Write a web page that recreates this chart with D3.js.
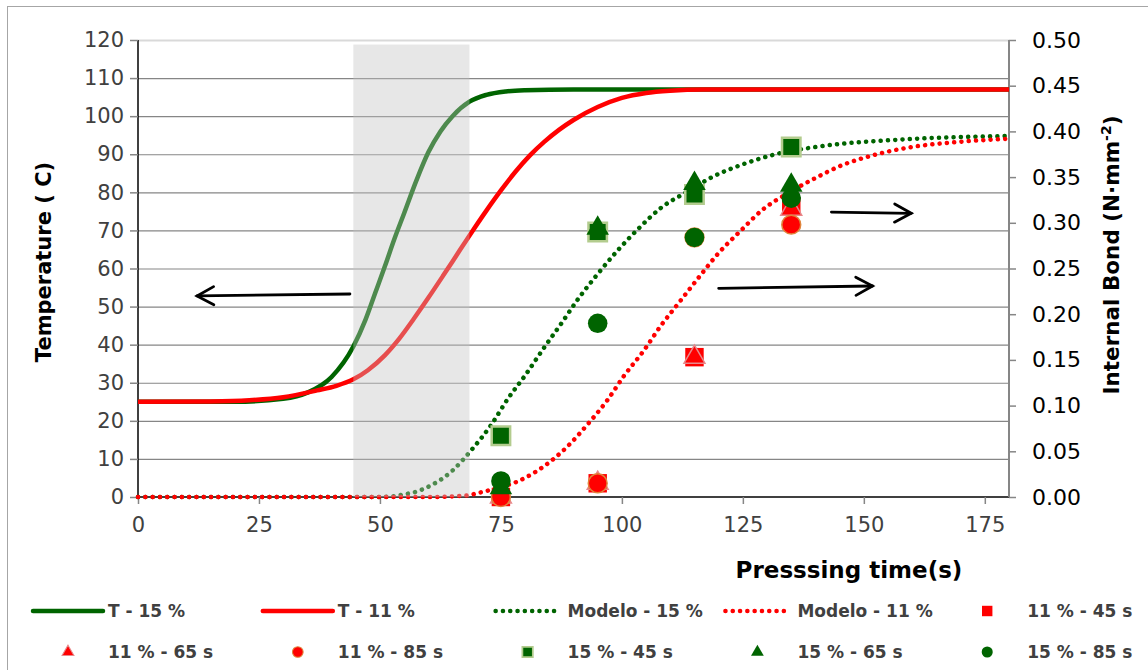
<!DOCTYPE html>
<html>
<head>
<meta charset="utf-8">
<script src="https://cdn.jsdelivr.net/npm/d3@7"></script>
<style>
    html, body { margin: 0; padding: 0; background: #fff; }
    svg { display: block; font-family: "DejaVu Sans", Verdana, sans-serif; }
    .tick text { font-family: "DejaVu Sans", Verdana, sans-serif; }
</style>
</head>
<body>
<div id="chart"></div>
<script>
// temperature curves (left axis, C)
const t15Time = [0, 20, 30, 35, 40, 44.5, 47, 49, 51, 53, 55, 57.5, 60, 62.5, 65, 68.5, 72, 76, 80, 90, 100, 180];
const t15Temp = [25, 25, 25.8, 27.4, 31.5, 39.5, 46.5, 53.5, 60.5, 67.8, 74.5, 83, 90.5, 96, 100, 103.8, 105.6, 106.5, 106.8, 107, 107, 107];

const t11Time = [0, 15, 23, 30, 37, 41, 44.5, 47.5, 51, 54, 57, 60, 63, 66, 69, 72, 75, 78, 81, 84, 87, 90, 95, 100, 105, 110, 117, 180];
const t11Temp = [25, 25.1, 25.4, 26.2, 28, 29.2, 30.9, 33.3, 37.2, 41.6, 46.8, 52.3, 58, 63.8, 69.6, 75.2, 80.5, 85.4, 89.7, 93.3, 96.4, 99, 102.4, 104.8, 106.1, 106.7, 107, 107];

// model curves (right axis, N/mm2)
const m15Time = [0, 50, 53, 55, 57, 59, 61, 63, 65, 69, 73, 76.5, 80, 84, 87.5, 91, 95, 99, 103.5, 108, 113.5, 119, 125, 131, 141.5, 157.5, 180];
const m15Ib = [0, 0, 0.001, 0.003, 0.005, 0.0088, 0.014, 0.0205, 0.029, 0.052, 0.079, 0.108, 0.133, 0.164, 0.19, 0.217, 0.244, 0.269, 0.294, 0.316, 0.334, 0.351, 0.364, 0.374, 0.384, 0.391, 0.395];

const m11Time = [0, 62, 66, 68.5, 70, 72, 75, 78, 80, 82, 84, 88.5, 93, 97, 100.5, 104.5, 108, 112, 116, 120, 124.5, 129, 134.5, 140, 145.5, 152, 160, 168.5, 180];
const m11Ib = [0, 0, 0.001, 0.002, 0.004, 0.0066, 0.011, 0.016, 0.021, 0.027, 0.034, 0.054, 0.08, 0.106, 0.133, 0.16, 0.187, 0.214, 0.241, 0.267, 0.291, 0.314, 0.333, 0.349, 0.363, 0.374, 0.383, 0.388, 0.392];

// measured internal bond
const pressTimes = [75, 95, 115, 135];
const ib11_45 = [0, 0.015, 0.153, 0.318];
const ib11_65 = [0, 0.015, 0.153, 0.315];
const ib11_85 = [0, 0.015, 0.284, 0.298];
const ib15_45 = [0.067, 0.29, 0.331, 0.383];
const ib15_65 = [0.01, 0.294, 0.343, 0.341];
const ib15_85 = [0.0175, 0.19, 0.284, 0.327];

const xTicks = [0, 25, 50, 75, 100, 125, 150, 175];
const tempTicks = [0, 10, 20, 30, 40, 50, 60, 70, 80, 90, 100, 110, 120];
const ibTicks = [0, 0.05, 0.1, 0.15, 0.2, 0.25, 0.3, 0.35, 0.4, 0.45, 0.5];

// shaded press-closing window (time from, time to, top in C)
const band = [44.5, 68.5, 118.8];

// arrows [t1, T1, t2, T2] in left-axis units
const arrows = [
    [43.8, 53.3, 12.2, 52.8],
    [120, 54.8, 151.8, 55.4],
    [143.3, 74.8, 159.8, 74.5]
];

const legendNames = ['T - 15 %', 'T - 11 %', 'Modelo - 15 %', 'Modelo - 11 %', '11 % - 45 s',
    '11 % - 65 s', '11 % - 85 s', '15 % - 45 s', '15 % - 65 s', '15 % - 85 s'];

const GREEN = '#006400', RED = '#ff0000';

const W = 1148, H = 670;
const M = { left: 138, right: 1009, top: 40, bottom: 497 };

const svg = d3.select('#chart').append('svg')
    .attr('width', W).attr('height', H);

// outer frame
svg.append('rect')
    .attr('x', 7.5).attr('y', 6.5).attr('width', W + 10).attr('height', H + 10)
    .attr('fill', 'none').attr('stroke', '#a6a6a6');

const x = d3.scaleLinear().domain([0, 180]).range([M.left, M.right]);
const yT = d3.scaleLinear().domain([0, 120]).range([M.bottom, M.top]);
const yIb = d3.scaleLinear().domain([0, 0.5]).range([M.bottom, M.top]);

// gridlines
svg.append('g')
    .selectAll('line')
    .data(tempTicks.filter(d => d > 0))
    .join('line')
    .attr('x1', M.left).attr('x2', M.right)
    .attr('y1', d => yT(d) + 0.5).attr('y2', d => yT(d) + 0.5)
    .attr('stroke', d => d === 120 ? '#d9d9d9' : '#868686')
    .attr('stroke-width', d => d === 120 ? 2 : 1.2);

// axes
const xAxis = svg.append('g')
    .attr('transform', `translate(0,${M.bottom})`)
    .call(d3.axisBottom(x).tickValues(xTicks).tickSize(7).tickPadding(13).tickFormat(d3.format('d')));
const yAxisL = svg.append('g')
    .attr('transform', `translate(${M.left},0)`)
    .call(d3.axisLeft(yT).tickValues(tempTicks).tickSize(8).tickPadding(6));
const yAxisR = svg.append('g')
    .attr('transform', `translate(${M.right},0)`)
    .call(d3.axisRight(yIb).tickValues(ibTicks).tickSize(7).tickPadding(16).tickFormat(d3.format('.2f')));

[xAxis, yAxisL, yAxisR].forEach(a => {
    a.attr('font-family', null).attr('font-size', null);
    a.selectAll('.tick line').attr('stroke', '#868686').attr('stroke-width', 1.5);
    a.selectAll('.tick text').style('font-size', '21px').attr('fill', '#404040');
});
xAxis.select('.domain').attr('stroke', '#000').attr('stroke-width', 1.5).attr('d', `M${M.left},0H${M.right}`);
yAxisL.select('.domain').attr('stroke', '#000').attr('stroke-width', 1.5).attr('d', `M0,${M.bottom}V${M.top}`);
yAxisR.select('.domain').attr('stroke', '#868686').attr('stroke-width', 2).attr('d', `M0,${M.bottom}V${M.top}`);
yAxisR.selectAll('.tick text').style('font-size', '22px').attr('fill', '#000');

// curves
const tLine = d3.line().x(d => x(d[0])).y(d => yT(d[1])).curve(d3.curveMonotoneX);
const ibLine = d3.line().x(d => x(d[0])).y(d => yIb(d[1])).curve(d3.curveMonotoneX);

const lines = svg.append('g').attr('fill', 'none');
lines.append('path').datum(d3.zip(t15Time, t15Temp))
    .attr('d', tLine).attr('stroke', GREEN).attr('stroke-width', 4.5);
lines.append('path').datum(d3.zip(t11Time, t11Temp))
    .attr('d', tLine).attr('stroke', RED).attr('stroke-width', 4.5);
lines.append('path').datum(d3.zip(m15Time, m15Ib))
    .attr('d', ibLine).attr('stroke', GREEN).attr('stroke-width', 4.5)
    .attr('stroke-linecap', 'round').attr('stroke-dasharray', '0.1 7.2');
lines.append('path').datum(d3.zip(m11Time, m11Ib))
    .attr('d', ibLine).attr('stroke', RED).attr('stroke-width', 4.5)
    .attr('stroke-linecap', 'round').attr('stroke-dasharray', '0.1 7.2');

// shaded band on top of lines and axis
svg.append('rect')
    .attr('x', x(band[0])).attr('y', yT(band[2]))
    .attr('width', x(band[1]) - x(band[0]))
    .attr('height', yT(0) - yT(band[2]))
    .attr('fill', 'rgb(195,195,195)').attr('fill-opacity', 0.4);

// markers
const series = [
    { vals: ib11_45, shape: d3.symbolSquare, size: 340, fill: RED, stroke: RED, sw: 0 },
    { vals: ib11_65, shape: d3.symbolTriangle, size: 190, fill: RED, stroke: '#e8898b', sw: 1.5 },
    { vals: ib11_85, shape: d3.symbolCircle, size: 280, fill: RED, stroke: '#e0843c', sw: 1.5 },
    { vals: ib15_45, shape: d3.symbolSquare, size: 340, fill: GREEN, stroke: '#b3cc8e', sw: 2.5 },
    { vals: ib15_65, shape: d3.symbolTriangle, size: 220, fill: GREEN, stroke: GREEN, sw: 0 },
    { vals: ib15_85, shape: d3.symbolCircle, size: 300, fill: GREEN, stroke: GREEN, sw: 0 }
];
series.forEach(s => {
    svg.append('g')
        .selectAll('path')
        .data(d3.zip(pressTimes, s.vals))
        .join('path')
        .attr('transform', d => `translate(${x(d[0])},${yIb(d[1])})`)
        .attr('d', d3.symbol().type(s.shape).size(s.size))
        .attr('fill', s.fill).attr('stroke', s.stroke).attr('stroke-width', s.sw);
});

// arrows
const arrowG = svg.append('g').attr('stroke', '#000').attr('stroke-width', 2.8)
    .attr('fill', 'none').attr('stroke-linecap', 'round');
arrows.forEach(a => {
    const x1 = x(a[0]), y1 = yT(a[1]), x2 = x(a[2]), y2 = yT(a[3]);
    const ang = Math.atan2(y2 - y1, x2 - x1);
    const L = 19, spread = 0.5;
    arrowG.append('line').attr('x1', x1).attr('y1', y1).attr('x2', x2).attr('y2', y2);
    arrowG.append('path').attr('d',
        `M${x2 - L * Math.cos(ang - spread)},${y2 - L * Math.sin(ang - spread)}` +
        `L${x2},${y2}` +
        `L${x2 - L * Math.cos(ang + spread)},${y2 - L * Math.sin(ang + spread)}`);
});

// axis titles
svg.append('text')
    .attr('transform', `translate(51,262) rotate(-90)`)
    .attr('text-anchor', 'middle').attr('font-size', 21).attr('font-weight', 'bold')
    .attr('fill', '#000').text('Temperature ( C)');

const rt = svg.append('text')
    .attr('transform', `translate(1119,255) rotate(-90)`)
    .attr('text-anchor', 'middle').attr('font-size', 21.5).attr('font-weight', 'bold')
    .attr('fill', '#000');
rt.append('tspan').text('Internal Bond (N·mm');
rt.append('tspan').attr('font-size', 14).attr('dy', -8).text('-2');
rt.append('tspan').attr('dy', 8).text(')');

svg.append('text')
    .attr('x', 849).attr('y', 578)
    .attr('text-anchor', 'middle').attr('font-size', 23).attr('font-weight', 'bold')
    .attr('fill', '#000').text('Presssing time(s)');

// legend
const legend = svg.append('g');
const colX = i => 33 + (i % 5) * 229.8;
const rowY = i => i < 5 ? 611 : 652;
legendNames.forEach((name, i) => {
    const g = legend.append('g').attr('transform', `translate(${colX(i)},${rowY(i)})`);
    if (i < 4) {
        const ln = g.append('line').attr('x1', 0).attr('x2', 70).attr('y1', 0).attr('y2', 0)
            .attr('stroke', i % 2 === 0 ? GREEN : RED).attr('stroke-width', 4.5).attr('stroke-linecap', 'round');
        if (i >= 2) ln.attr('stroke-dasharray', '0.1 7.2').attr('x1', 3).attr('x2', 66);
    } else {
        const s = series[i - 4];
        g.append('path')
            .attr('transform', 'translate(35,0)')
            .attr('d', d3.symbol().type(s.shape).size(s.size * 0.32))
            .attr('fill', s.fill).attr('stroke', s.stroke).attr('stroke-width', s.sw * 0.7);
    }
    g.append('text')
        .attr('x', 75).attr('y', 0).attr('dy', '0.35em')
        .attr('font-size', 17).attr('font-weight', 'bold').attr('fill', '#404040')
        .text(name);
});
</script>
</body>
</html>
